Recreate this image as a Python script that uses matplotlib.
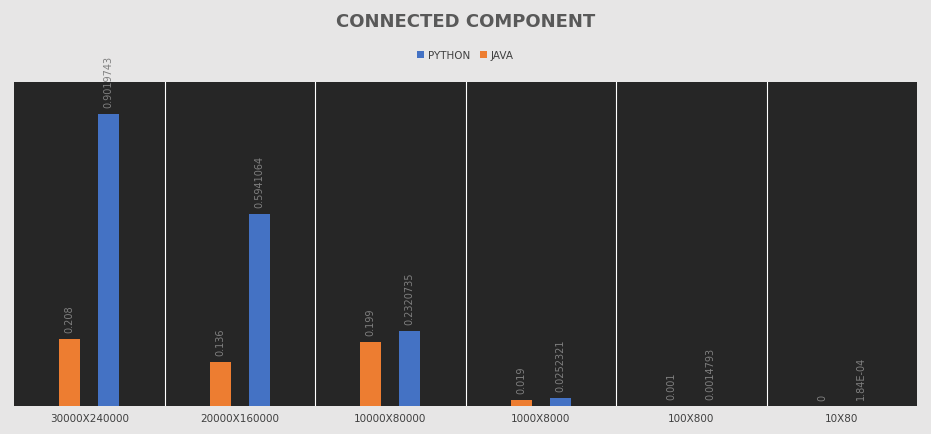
import matplotlib.pyplot as plt
import numpy as np

categories = ["30000X240000", "20000X160000", "10000X80000", "1000X8000", "100X800", "10X80"]
java = [0.208, 0.136, 0.199, 0.019, 0.001, 0]
python = [0.9019743, 0.5941064, 0.2320735, 0.0252321, 0.0014793, 0.000184]
java_labels = ["0.208", "0.136", "0.199", "0.019", "0.001", "0"]
python_labels = ["0.9019743", "0.5941064", "0.2320735", "0.0252321", "0.0014793", "1.84E-04"]

BG = "#e7e6e6"
PLOT_BG = "#262626"
ORANGE = "#ed7d31"
BLUE = "#4472c4"
TEXT = "#7f7f7f"

fig = plt.figure(figsize=(9.31, 4.35), dpi=100, facecolor=BG)
ax = fig.add_axes([14 / 931, 1 - 407 / 435, 903 / 931, 324 / 435])
ax.set_facecolor(PLOT_BG)

x = np.arange(len(categories))
w = 0.14
ax.bar(x - 0.13, java, w, color=ORANGE, label="JAVA", zorder=3)
ax.bar(x + 0.13, python, w, color=BLUE, label="PYTHON", zorder=3)

for i in range(len(categories)):
    ax.text(x[i] - 0.13, java[i] + 0.02, java_labels[i], rotation=90, ha="center", va="bottom",
            fontsize=7, color=TEXT)
    ax.text(x[i] + 0.13, python[i] + 0.02, python_labels[i], rotation=90, ha="center", va="bottom",
            fontsize=7, color=TEXT)

for b in np.arange(0.5, len(categories) - 0.5, 1):
    ax.axvline(b, color="white", lw=0.8, zorder=2)

ax.set_xlim(-0.5, len(categories) - 0.5)
ax.set_ylim(0, 1.0)
ax.set_yticks([])
ax.set_xticks(x)
ax.set_xticklabels(categories, fontsize=7.5, color="#404040")
ax.tick_params(axis="x", length=0, pad=5)
for s in ax.spines.values():
    s.set_visible(False)

fig.text(0.5, 1 - 22 / 435, "CONNECTED COMPONENT", ha="center", va="center",
         fontsize=13, fontweight="bold", color="#595959")
handles, labels = ax.get_legend_handles_labels()
fig.legend(handles[::-1], labels[::-1], loc="center", bbox_to_anchor=(0.5, 1 - 56 / 435), ncol=2,
           frameon=False, fontsize=7.5, handlelength=0.6, handleheight=0.6, columnspacing=1.0,
           handletextpad=0.4, labelcolor="#404040")

fig.savefig("out.png", dpi=100, facecolor=BG)
